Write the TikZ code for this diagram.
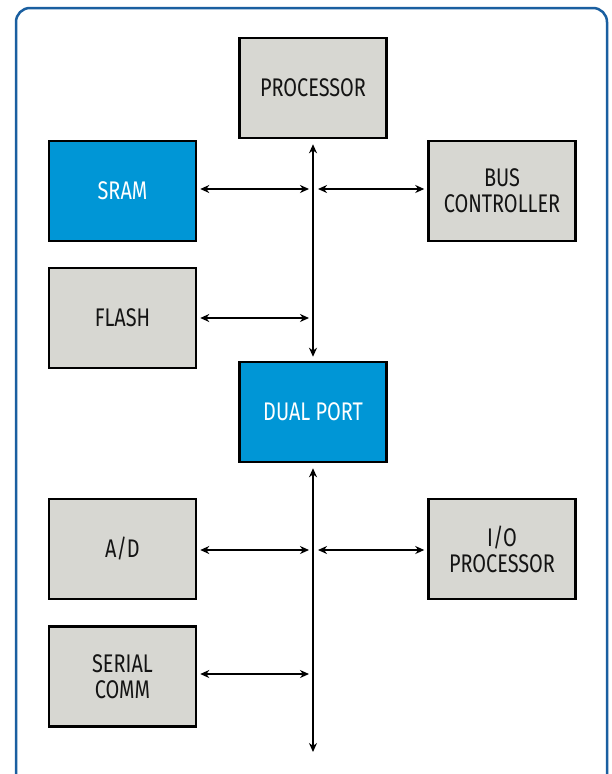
\documentclass[tikz,border=0pt]{standalone}
\usepackage{fontspec}
\setmainfont[FakeStretch=0.78]{Fira Sans}
\usetikzlibrary{arrows.meta}
\definecolor{boxgray}{RGB}{215,215,210}
\definecolor{boxblue}{RGB}{0,150,214}
\definecolor{frameblue}{RGB}{26,95,160}
\definecolor{txt}{RGB}{20,20,20}
\tikzset{
  blk/.style={draw=black, line width=2.5pt, fill=boxgray, minimum width=147pt, minimum height=100pt,
    inner sep=0pt, align=center, text=txt, font=\fontsize{25.5}{26}\selectfont},
  blkblue/.style={blk, fill=boxblue, text=white},
  conn/.style={line width=1.7pt, {Stealth[length=9pt,width=8pt]}-{Stealth[length=9pt,width=8pt]}},
}
\begin{document}
\begin{tikzpicture}[x=1pt,y=-1pt]
\useasboundingbox (0,0) rectangle (611,774);
\fill[white] (0,0) rectangle (611,774);
\draw[frameblue, line width=2.5pt, rounded corners=14pt] (16,8) rectangle (607,800);

\node[blk] (proc) at (313,88) {PROCESSOR};
\node[blkblue] (sram) at (122.5,191) {SRAM};
\node[blk] (bus) at (502,191) {BUS\\CONTROLLER};
\node[blk] (flash) at (122.5,318) {FLASH};
\node[blkblue] (dual) at (313,412) {DUAL PORT};
\node[blk] (ad) at (122.5,549) {A/D};
\node[blk] (io) at (502,549) {I/O\\PROCESSOR};
\node[blk] (serial) at (122.5,676.5) {SERIAL\\COMM};

\coordinate (s1) at (309,189);
\coordinate (s2) at (318,189);
\coordinate (f1) at (309,318);
\coordinate (a1) at (309,550);
\coordinate (a2) at (318,550);
\coordinate (c1) at (309,674);
\coordinate (bend) at (313,752);

\draw[conn] ([yshift=-5pt]proc.south) -- ([yshift=4pt]dual.north);
\draw[conn] ([yshift=-5pt]dual.south) -- (bend);
\draw[conn] ([xshift=3pt]sram.east |- s1) -- (s1);
\draw[conn] (s2) -- ([xshift=-3pt]bus.west |- s2);
\draw[conn] ([xshift=3pt]flash.east |- f1) -- (f1);
\draw[conn] ([xshift=3pt]ad.east |- a1) -- (a1);
\draw[conn] (a2) -- ([xshift=-3pt]io.west |- a2);
\draw[conn] ([xshift=3pt]serial.east |- c1) -- (c1);
\end{tikzpicture}
\end{document}
